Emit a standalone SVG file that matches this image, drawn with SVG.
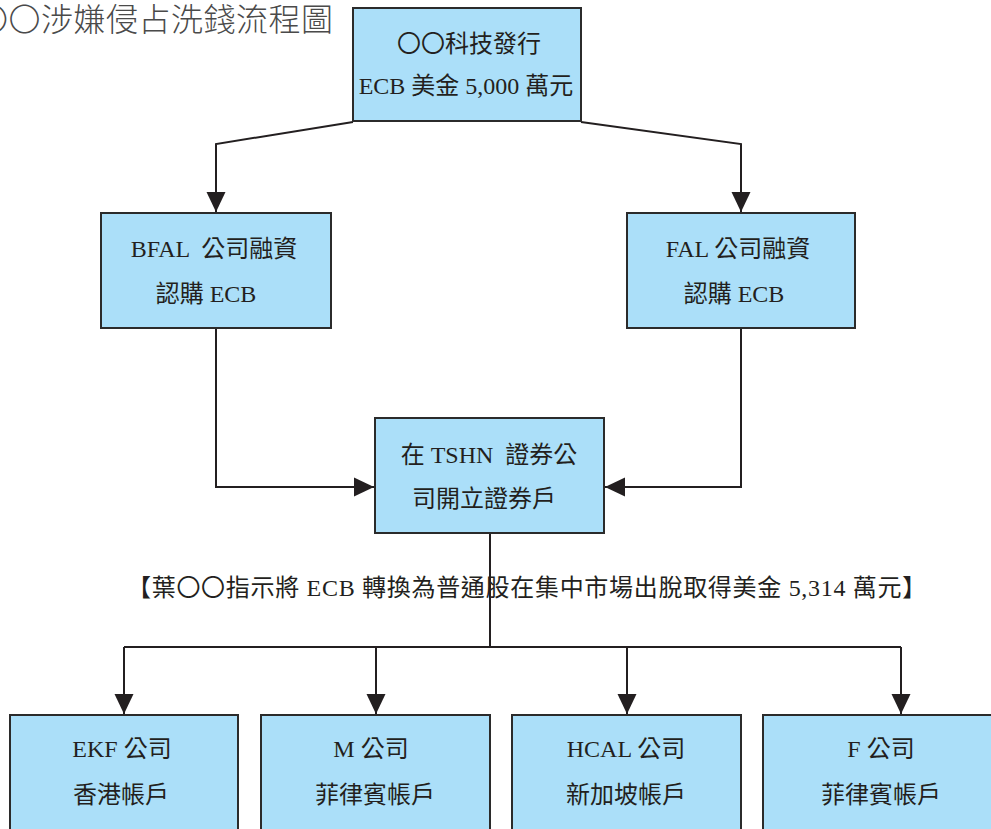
<svg xmlns="http://www.w3.org/2000/svg" width="991" height="829" viewBox="0 0 991 829">
  <defs>
    <style>
      .box { fill: #abdff9; stroke: #2b2b2b; stroke-width: 2; }
      .wire { fill: none; stroke: #231f20; stroke-width: 2; }
      .txt { font-family: "Liberation Serif", "Noto Sans CJK TC", serif; font-size: 24px; fill: #231f20; text-anchor: middle; }
      .note { letter-spacing: 0.7px; }
      .title { font-family: "Noto Sans CJK TC", "Noto Sans", sans-serif; font-size: 32px; font-weight: 300; fill: #4a4a4a; letter-spacing: 0.5px; }
    </style>
    <marker id="arrow" viewBox="0 0 20 20" refX="20" refY="10" markerWidth="20" markerHeight="20" markerUnits="userSpaceOnUse" orient="auto">
      <path d="M0,0.5 L20,10 L0,19.5 Z" fill="#231f20"/>
    </marker>
  </defs>

  <rect width="991" height="829" fill="#ffffff"/>

  <text class="title" x="-24" y="31">〇〇涉嫌侵占洗錢流程圖</text>

  <!-- connectors -->
  <g id="connectors">
    <path class="wire" d="M353,122 L216,144 L216,212" marker-end="url(#arrow)"/>
    <path class="wire" d="M581,122 L741,144 L741,212" marker-end="url(#arrow)"/>
    <path class="wire" d="M216,328 L216,487 L374,487" marker-end="url(#arrow)"/>
    <path class="wire" d="M741,328 L741,487 L605,487" marker-end="url(#arrow)"/>
    <path class="wire" d="M124,647 L901,647"/>
    <path class="wire" d="M124,647 L124,714" marker-end="url(#arrow)"/>
    <path class="wire" d="M376,647 L376,714" marker-end="url(#arrow)"/>
    <path class="wire" d="M627,647 L627,714" marker-end="url(#arrow)"/>
    <path class="wire" d="M901,647 L901,714" marker-end="url(#arrow)"/>
  </g>

  <!-- transfer note on the trunk line -->
  <text class="txt note" x="527" y="596">【葉〇〇指示將 ECB 轉換為普通股在集中市場出脫取得美金 5,314 萬元】</text>
  <path class="wire" d="M490,533 L490,647"/>

  <g id="issuer">
    <rect class="box" x="353" y="8" width="228" height="113"/>
    <text class="txt" x="469" y="52">〇〇科技發行</text>
    <text class="txt" x="466" y="94">ECB 美金 5,000 萬元</text>
  </g>

  <g id="bfal">
    <rect class="box" x="101" y="213" width="230" height="115"/>
    <text class="txt" x="214" y="257" xml:space="preserve">BFAL  公司融資</text>
    <text class="txt" x="206" y="302">認購 ECB</text>
  </g>

  <g id="fal">
    <rect class="box" x="627" y="213" width="228" height="115"/>
    <text class="txt" x="738" y="257">FAL 公司融資</text>
    <text class="txt" x="734" y="302">認購 ECB</text>
  </g>

  <g id="tshn">
    <rect class="box" x="375" y="418" width="229" height="115"/>
    <text class="txt" x="489" y="463" xml:space="preserve">在 TSHN  證券公</text>
    <text class="txt" x="484" y="507">司開立證券戶</text>
  </g>

  <g id="ekf">
    <rect class="box" x="10" y="715" width="228" height="130"/>
    <text class="txt" x="122" y="757">EKF 公司</text>
    <text class="txt" x="121" y="803">香港帳戶</text>
  </g>

  <g id="m-co">
    <rect class="box" x="261" y="715" width="229" height="130"/>
    <text class="txt" x="371" y="757">M 公司</text>
    <text class="txt" x="375" y="803">菲律賓帳戶</text>
  </g>

  <g id="hcal">
    <rect class="box" x="512" y="715" width="229" height="130"/>
    <text class="txt" x="626" y="757">HCAL 公司</text>
    <text class="txt" x="626" y="803">新加坡帳戶</text>
  </g>

  <g id="f-co">
    <rect class="box" x="763" y="715" width="240" height="130"/>
    <text class="txt" x="881" y="757">F 公司</text>
    <text class="txt" x="881" y="803">菲律賓帳戶</text>
  </g>
</svg>
